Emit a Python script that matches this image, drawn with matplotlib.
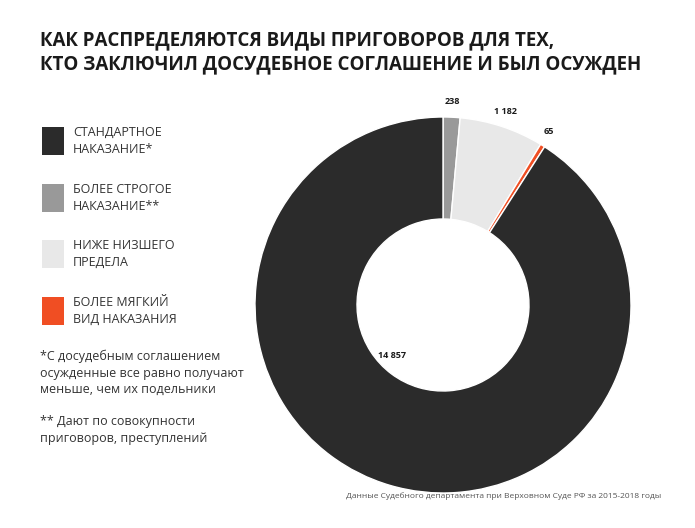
import matplotlib
matplotlib.use("Agg")
import matplotlib.pyplot as plt
import numpy as np

categories = ["СТАНДАРТНОЕ\nНАКАЗАНИЕ*", "БОЛЕЕ СТРОГОЕ\nНАКАЗАНИЕ**", "НИЖЕ НИЗШЕГО\nПРЕДЕЛА", "БОЛЕЕ МЯГКИЙ\nВИД НАКАЗАНИЯ"]
values = [14857, 238, 1182, 65]
labels = ["14 857", "238", "1 182", "65"]
colors = ["#2b2b2b", "#999999", "#e8e8e8", "#f04e23"]

plt.rcParams['font.family'] = ['Open Sans', 'DejaVu Sans']
fig = plt.figure(figsize=(6.95, 5.28), dpi=100)
W, H = 695, 528

fig.text(40/W, 1-52/H, "КАК РАСПРЕДЕЛЯЮТСЯ ВИДЫ ПРИГОВОРОВ ДЛЯ ТЕХ,\nКТО ЗАКЛЮЧИЛ ДОСУДЕБНОЕ СОГЛАШЕНИЕ И БЫЛ ОСУЖДЕН",
         fontsize=13.5, fontweight='bold', color='#1a1a1a', va='center', ha='left', linespacing=1.25)

# pie: order clockwise from top: gray, light, orange, black
order = [1, 2, 3, 0]
ax = fig.add_axes([255/W, 35/H, 376/W, 376/H])
wedges, _ = ax.pie([values[i] for i in order], colors=[colors[i] for i in order],
                   startangle=90, counterclock=False, radius=1,
                   wedgeprops=dict(width=1-86/188, edgecolor='white', linewidth=1))
ax.set_xlim(-1, 1); ax.set_ylim(-1, 1); ax.set_aspect('equal'); ax.axis('off')

total = sum(values)
cum = 0
for i in order:
    v = values[i]
    mid = 90 - (cum + v/2)/total*360
    cum += v
    if i == 0:
        ax.text(-0.27, -0.27, labels[i], fontsize=6.5, fontweight='bold', ha='center', va='center', color='#1a1a1a')
        continue
    r = 1.06
    x, y = r*np.cos(np.radians(mid)), r*np.sin(np.radians(mid))
    ax.text(x, y, labels[i], fontsize=6.5, fontweight='bold', ha='center', va='bottom', color='#1a1a1a', clip_on=False)

ys = [141, 198, 254, 311]
for k in range(4):
    y = ys[k]
    fig.patches.append(plt.Rectangle((42/W, 1-(y+14)/H), 22/W, 28/H, transform=fig.transFigure,
                                     facecolor=colors[k], edgecolor='none'))
    fig.text(73/W, 1-y/H, categories[k], fontsize=9, color='#333333', va='center', ha='left', linespacing=1.35)

fig.text(40/W, 1-373/H, "*С досудебным соглашением\nосужденные все равно получают\nменьше, чем их подельники",
         fontsize=9, color='#333333', va='center', ha='left', linespacing=1.35)
fig.text(40/W, 1-430/H, "** Дают по совокупности\nприговоров, преступлений",
         fontsize=9, color='#333333', va='center', ha='left', linespacing=1.35)
fig.text(661/W, 1-496/H, "Данные Судебного департамента при Верховном Суде РФ за 2015-2018 годы",
         fontsize=6, color='#555555', ha='right', va='center')

fig.savefig("out.png", dpi=100, facecolor='white')
